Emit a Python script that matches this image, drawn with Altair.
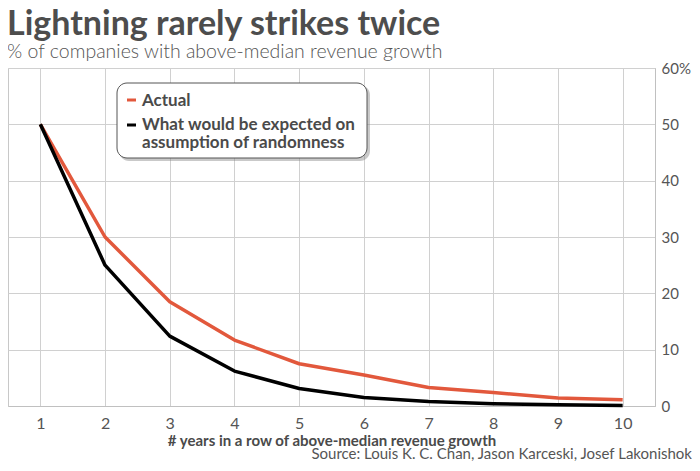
import altair as alt
import pandas as pd

years = [1, 2, 3, 4, 5, 6, 7, 8, 9, 10]
actual = [50, 30, 18.5, 11.7, 7.5, 5.5, 3.3, 2.4, 1.4, 1.1]
expected = [50, 25, 12.4, 6.2, 3.1, 1.5, 0.8, 0.4, 0.2, 0.1]
series_names = ["Actual", "What would be expected on assumption of randomness"]
series_colors = ["#e2583c", "#000000"]
y_ticks = [0, 10, 20, 30, 40, 50, 60]

title_text = "Lightning rarely strikes twice"
subtitle_text = "% of companies with above-median revenue growth"
x_title = "# years in a row of above-median revenue growth"
source_text = "Source: Louis K. C. Chan, Jason Karceski, Josef Lakonishok"
legend_lines = ["Actual", "What would be expected on", "assumption of randomness"]

df = pd.DataFrame({
    "year": years * 2,
    "pct": actual + expected,
    "series": [series_names[0]] * len(years) + [series_names[1]] * len(years),
})

W, H = 647, 338
TXT = "#4a4a4a"

xenc = alt.X("year:Q",
             scale=alt.Scale(domain=[0.5, 10.5], nice=False, zero=False),
             axis=alt.Axis(values=years, title=x_title, grid=True, ticks=False,
                           labelPadding=9, titlePadding=2, format="d"))
yenc = alt.Y("pct:Q",
             scale=alt.Scale(domain=[0, 60], nice=False),
             axis=alt.Axis(orient="right", values=y_ticks, title=None, grid=True, ticks=False,
                           labelPadding=6, labelAlign="left", labelFontSize=15,
                           labelExpr="datum.value == 60 ? '60%' : datum.label"))
cenc = alt.Color("series:N", scale=alt.Scale(domain=series_names, range=series_colors), legend=None)

base = alt.Chart(df)
line_actual = base.transform_filter(alt.datum.series == series_names[0]).mark_line(
    strokeWidth=3.5, strokeJoin="round").encode(x=xenc, y=yenc, color=cenc)
line_exp = base.transform_filter(alt.datum.series == series_names[1]).mark_line(
    strokeWidth=3.5, strokeJoin="round").encode(x=xenc, y=yenc, color=cenc)

one = alt.Data(values=[{"k": 1}])

def txt(s, x, y, size, weight="normal", align="left", color=TXT):
    return alt.Chart(one).mark_text(
        align=align, baseline="alphabetic", fontSize=size, fontWeight=weight,
        color=color, font="Lato").encode(
        x=alt.value(x), y=alt.value(y), text=alt.value(s))

shadow = alt.Chart(one).mark_rect(cornerRadius=10, fill="#888", opacity=0.45).encode(
    x=alt.value(111), x2=alt.value(362), y=alt.value(17), y2=alt.value(93))
box = alt.Chart(one).mark_rect(cornerRadius=10, fill="white", stroke="#555", strokeWidth=1).encode(
    x=alt.value(109), x2=alt.value(359), y=alt.value(15), y2=alt.value(90))
dash1 = alt.Chart(one).mark_rule(color=series_colors[0], strokeWidth=3).encode(
    x=alt.value(119), x2=alt.value(128), y=alt.value(32))
dash2 = alt.Chart(one).mark_rule(color=series_colors[1], strokeWidth=3).encode(
    x=alt.value(119), x2=alt.value(128), y=alt.value(57))

layers = [
    line_actual, line_exp,
    shadow, box, dash1, dash2,
    txt(legend_lines[0], 134, 38, 17, "bold"),
    txt(legend_lines[1], 134, 62, 17, "bold"),
    txt(legend_lines[2], 134, 80, 17, "bold"),
    txt(title_text, -1, -33, 34, "bold", color="#4d4d4d"),
    txt(subtitle_text, -1, -10, 19.5, 300, color="#555"),
    txt(source_text, W + 37, 391, 15, "normal", align="right", color="#555"),
]

chart = alt.layer(*layers).properties(
    width=W, height=H,
    autosize=alt.AutoSizeParams(type="none"),
    padding={"left": 0, "top": 60, "right": 37, "bottom": 57},
).configure(font="Lato").configure_view(
    stroke="#c8c8c8", strokeWidth=1
).configure_axis(
    gridColor="#d0d0d0", gridWidth=1, domainColor="#c0c0c0",
    labelFont="Lato", labelFontSize=16, labelColor="#555",
    titleFont="Lato", titleFontSize=15, titleFontWeight="bold", titleColor=TXT,
)

chart.save("out.html", embed_options={"renderer": "svg", "actions": False})
